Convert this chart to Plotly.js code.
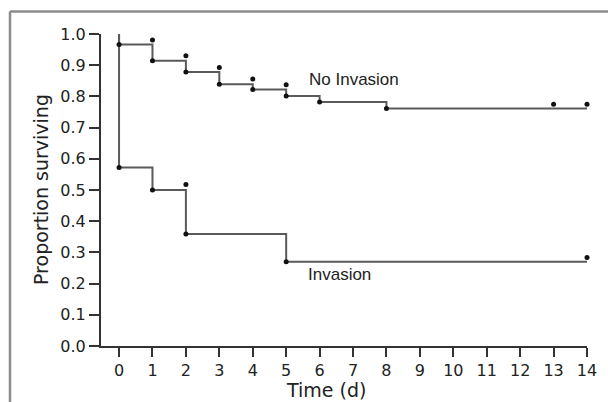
<!DOCTYPE html>
<html>
<head>
<meta charset="utf-8">
<script src="https://cdn.plot.ly/plotly-3.0.1.min.js"></script>
<style>html,body{margin:0;padding:0;background:#fff;}#chart{width:608px;height:402px;}</style>
</head>
<body>
<div id="chart"></div>
<script>
// Kaplan-Meier step data (time in days, proportion surviving)
const noInvStepTimes = [0, 0, 1, 2, 3, 4, 5, 6, 8, 14];
const noInvStepSurv  = [1.0, 0.966, 0.914, 0.878, 0.839, 0.822, 0.801, 0.782, 0.761, 0.761];
const noInvEventTimes = [0, 1, 2, 3, 4, 5, 6, 8];
const noInvEventSurv  = [0.966, 0.914, 0.878, 0.839, 0.822, 0.801, 0.782, 0.761];
const noInvCensorTimes = [1, 2, 3, 4, 5, 13, 14];
const noInvCensorSurv  = [0.981, 0.930, 0.893, 0.856, 0.837, 0.775, 0.775];

const invStepTimes = [0, 0, 1, 2, 5, 14];
const invStepSurv  = [1.0, 0.572, 0.500, 0.359, 0.270, 0.270];
const invEventTimes = [0, 1, 2, 5];
const invEventSurv  = [0.572, 0.500, 0.359, 0.270];
const invCensorTimes = [2, 14];
const invCensorSurv  = [0.518, 0.284];

const xTicks = [0,1,2,3,4,5,6,7,8,9,10,11,12,13,14];
const yTicks = [0,0.1,0.2,0.3,0.4,0.5,0.6,0.7,0.8,0.9,1.0];

const lineStyle = {color: '#5a5a5a', width: 2, shape: 'hv'};
const dot = {color: '#111', size: 5};

const traces = [
  {x: noInvStepTimes, y: noInvStepSurv, mode: 'lines', line: lineStyle, cliponaxis: false, hoverinfo: 'skip'},
  {x: invStepTimes, y: invStepSurv, mode: 'lines', line: lineStyle, cliponaxis: false, hoverinfo: 'skip'},
  {x: noInvEventTimes, y: noInvEventSurv, mode: 'markers', marker: dot, cliponaxis: false},
  {x: noInvCensorTimes, y: noInvCensorSurv, mode: 'markers', marker: dot, cliponaxis: false},
  {x: invEventTimes, y: invEventSurv, mode: 'markers', marker: dot, cliponaxis: false},
  {x: invCensorTimes, y: invCensorSurv, mode: 'markers', marker: dot, cliponaxis: false}
];

const L = 101, R = 21, T = 34, B = 56, W = 608, H = 402;
const pw = W - L - R, ph = H - T - B;
const px = v => (v - L) / pw;          // pixel x -> paper x
const py = v => (H - B - v) / ph;      // pixel y -> paper y

const tickFont = {family: 'DejaVu Sans', size: 16, color: '#222'};
const titleFont = {family: 'DejaVu Sans', size: 19, color: '#222'};
const labelFont = {family: 'Liberation Sans, Arial', size: 17, color: '#222'};

const layout = {
  width: W, height: H,
  margin: {l: L, r: R, t: T, b: B, pad: 0},
  paper_bgcolor: '#fff', plot_bgcolor: '#fff',
  showlegend: false,
  xaxis: {
    range: [-0.54, 14], tickvals: xTicks, ticktext: xTicks.map(String),
    showgrid: false, zeroline: false, showline: true, linecolor: '#333', linewidth: 2,
    ticks: 'outside', ticklen: 9, tickwidth: 2, tickcolor: '#333',
    tickfont: tickFont, fixedrange: true
  },
  yaxis: {
    range: [0, 1], tickvals: yTicks, ticktext: yTicks.map(v => v.toFixed(1)),
    showgrid: false, zeroline: false, showline: true, linecolor: '#333', linewidth: 2,
    ticks: 'outside', ticklen: 10, tickwidth: 2, tickcolor: '#333',
    tickfont: tickFont, fixedrange: true
  },
  annotations: [
    {text: 'No Invasion', x: 5.61, y: 0.853, xref: 'x', yref: 'y', xanchor: 'left', yanchor: 'middle', showarrow: false, font: labelFont},
    {text: 'Invasion', x: 5.59, y: 0.230, xref: 'x', yref: 'y', xanchor: 'left', yanchor: 'middle', showarrow: false, font: labelFont},
    {text: 'Time (d)', x: px(326), y: py(390), xref: 'paper', yref: 'paper', xanchor: 'center', yanchor: 'middle', showarrow: false, font: titleFont},
    {text: 'Proportion surviving', x: px(41), y: py(190), xref: 'paper', yref: 'paper', xanchor: 'center', yanchor: 'middle', textangle: -90, showarrow: false, font: titleFont}
  ],
  shapes: [
    {type: 'line', xref: 'paper', yref: 'paper', x0: px(10), x1: px(10), y0: py(402), y1: py(11.5), line: {color: '#8c8c8c', width: 2.5}},
    {type: 'line', xref: 'paper', yref: 'paper', x0: px(10), x1: px(608), y0: py(11.5), y1: py(11.5), line: {color: '#8c8c8c', width: 2.5}}
  ]
};

Plotly.newPlot('chart', traces, layout, {staticPlot: true, displayModeBar: false});
</script>
</body>
</html>
